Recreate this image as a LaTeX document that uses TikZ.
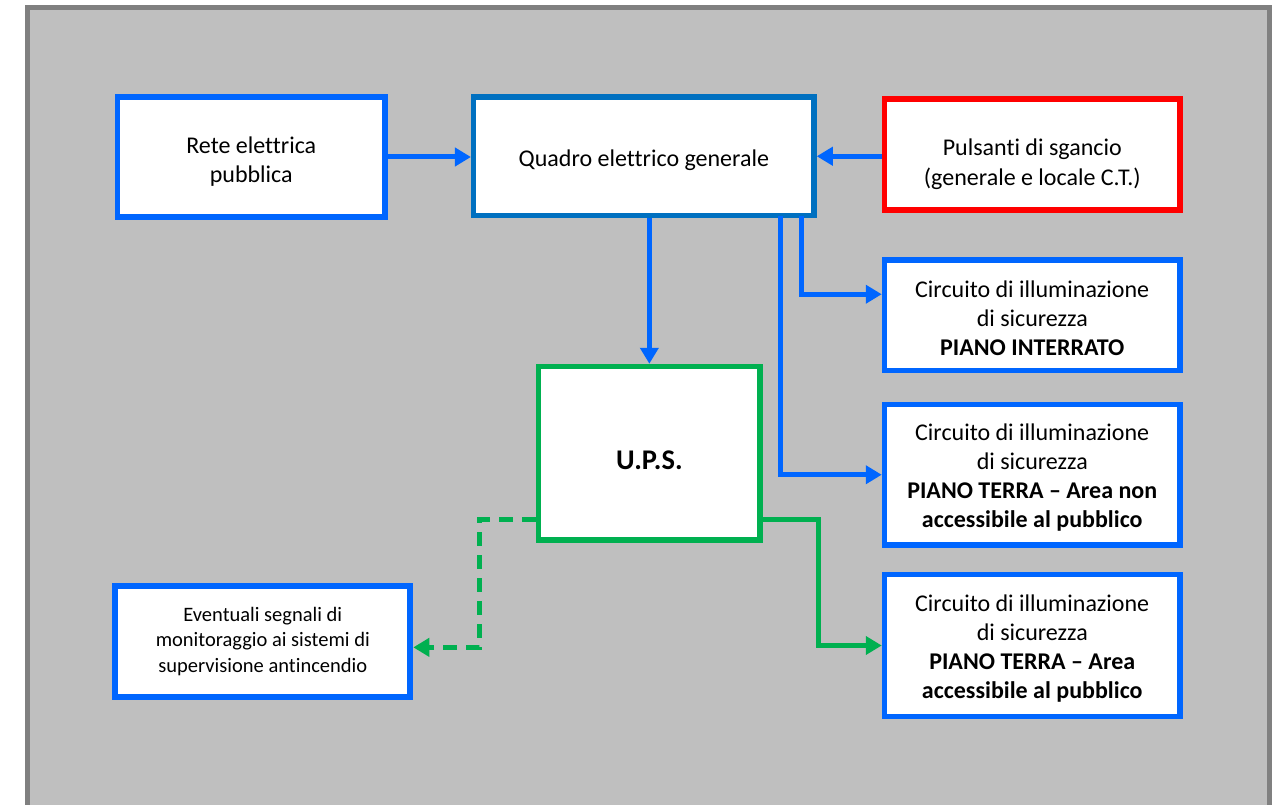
\documentclass[tikz,border=0pt]{standalone}
\usepackage{fontspec}
\setmainfont{Carlito}[Ligatures=CommonOff]
\usetikzlibrary{arrows.meta,calc}
\definecolor{frameg}{HTML}{BFBFBF}
\definecolor{framed}{HTML}{808080}
\definecolor{bblue}{HTML}{0066FF}
\definecolor{dblue}{HTML}{0070C0}
\definecolor{bred}{HTML}{FF0000}
\definecolor{bgreen}{HTML}{00B050}
\begin{document}
\begin{tikzpicture}[x=1pt,y=-1pt,
  box/.style={draw=bblue,fill=white,line width=5.5pt,rectangle,inner sep=0pt},
  txt/.style={inner sep=0pt,align=center,font=\fontsize{24}{29}\selectfont},
  conn/.style={draw=bblue,line width=5pt,-{Triangle[length=16pt,width=18pt]}},
  gconn/.style={draw=bgreen,line width=5pt,-{Triangle[length=16pt,width=18pt]}},
  gdash/.style={gconn,dash pattern=on 14pt off 9pt}]
\useasboundingbox (0,0) rectangle (1277,805);
\clip (0,0) rectangle (1277,805);
\draw[fill=frameg,draw=framed,line width=5pt] (27.5,7.5) rectangle (1269,830);

\node[box,minimum width=267.5pt,minimum height=120pt,
  label={[txt,yshift=-4.5pt]center:{Rete elettrica\\pubblica}}] (rete) at (251.25,157) {};
\node[box,draw=dblue,minimum width=340.3pt,minimum height=118.5pt,
  label={[txt,yshift=-4pt]center:{Quadro elettrico generale}}] (quadro) at (643.85,156.25) {};
\node[box,draw=bred,minimum width=295.5pt,minimum height=111pt,
  label={[txt,font=\fontsize{24}{30}\selectfont,yshift=-10pt]center:{Pulsanti di sgancio\\(generale e locale C.T.)}}] (puls) at (1032.25,154.5) {};
\node[box,minimum width=295.5pt,minimum height=110.5pt,
  label={[txt,yshift=-2.5pt]center:{Circuito di illuminazione\\di sicurezza\\\textbf{PIANO INTERRATO}}}] (c1) at (1032.25,315.25) {};
\node[box,minimum width=295.5pt,minimum height=140.5pt,
  label={[txt,yshift=-2.5pt]center:{Circuito di illuminazione\\di sicurezza\\\textbf{PIANO TERRA – Area non}\\\textbf{accessibile al pubblico}}}] (c2) at (1032.25,474.75) {};
\node[box,minimum width=295.5pt,minimum height=142pt,
  label={[txt,yshift=-3pt]center:{Circuito di illuminazione\\di sicurezza\\\textbf{PIANO TERRA – Area}\\\textbf{accessibile al pubblico}}}] (c3) at (1032.25,645.5) {};
\node[box,draw=bgreen,minimum width=221.3pt,minimum height=173.5pt,
  label={[txt,font=\fontsize{28.5}{34}\selectfont\bfseries,yshift=-7pt]center:{U.P.S.}}] (ups) at (649.35,453.25) {};
\node[box,line width=6pt,minimum width=295pt,minimum height=110.7pt,
  label={[txt,font=\fontsize{20.5}{25.5}\selectfont]center:{Eventuali segnali di\\monitoraggio ai sistemi di\\supervisione antincendio}}] (ev) at (262.8,641.35) {};

\draw[conn] (rete.east) -- (quadro.west |- rete.east);
\draw[conn] (puls.west |- quadro.east) -- (quadro.east);
\draw[conn] (ups.north |- quadro.south) -- (ups.north);
\draw[conn] ($(quadro.south east)+(-15,-2)$) |- ($(c1.west)+(0,-21)$);
\draw[conn] ($(quadro.south east)+(-36,-2)$) |- (c2.west);
\draw[gconn] ($(ups.east)+(0,66)$) -- ($(ups.east)+(56,66)$) |- (c3.west);
\draw[gdash] ($(ups.west)+(0,66)$) -- ($(ups.west)+(-56,66)$) |- ($(ev.east)+(0,6)$);
\end{tikzpicture}
\end{document}
